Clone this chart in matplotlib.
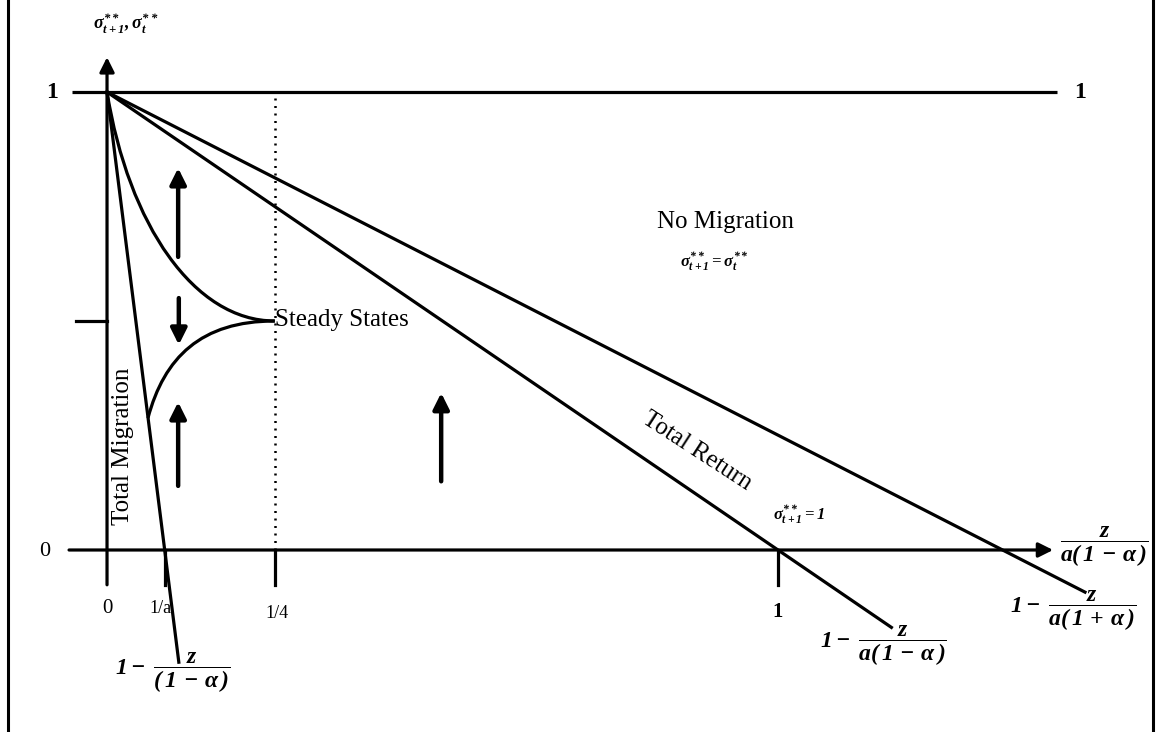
import matplotlib
matplotlib.use("Agg")
import matplotlib.pyplot as plt
from matplotlib.path import Path
from matplotlib.patches import PathPatch
from matplotlib.lines import Line2D

plt.rcParams['font.family'] = ['Liberation Serif', 'DejaVu Serif']
plt.rcParams['mathtext.fontset'] = 'custom'
plt.rcParams['mathtext.rm'] = 'Liberation Serif:italic:bold'
plt.rcParams['mathtext.it'] = 'Liberation Serif:italic:bold'
plt.rcParams['mathtext.bf'] = 'Liberation Serif:bold'

# three boundaries leaving (0, 1): end points
migration_x = [0.0, 0.107]
migration_y = [1.0, -0.245]
return_x = [0.0, 1.169]
return_y = [1.0, -0.169]
nomig_x = [0.0, 1.4575]
nomig_y = [1.0, -0.092]

# the two branches meeting at the steady state (1/4, 1/2), as bezier control points
upper_branch = [(0.0, 1.0), (0.032, 0.71), (0.13, 0.50), (0.25, 0.50)]
lower_branch = [(0.061, 0.288), (0.085, 0.42), (0.14, 0.50), (0.25, 0.50)]

inv_a = 0.0864
steady_x = 0.25
steady_y = 0.5

x_ticks = [0.0, inv_a, 0.25, 1.0]
x_tick_labels = ['0', '1/a', '1/4', '1']

# direction arrows (x, tail y, head y)
flow_arrows = [(0.106, 0.64, 0.834), (0.107, 0.55, 0.448),
               (0.106, 0.14, 0.323), (0.498, 0.15, 0.343)]

LW = 2.3

fig = plt.figure(figsize=(11.6, 7.32), dpi=100)
ax = fig.add_axes([0, 0, 1, 1])
ax.set_xlim(-0.1595, 1.5693)
ax.set_ylim(-0.3974, 1.2009)
ax.axis('off')

# side frame
fig.add_artist(Line2D([0.0069, 0.0069], [0, 1], transform=fig.transFigure, color='k', lw=2.2))
fig.add_artist(Line2D([0.994, 0.994], [0, 1], transform=fig.transFigure, color='k', lw=2.2))

# axes with arrow heads
ax.annotate('', xy=(1.41, 0), xytext=(-0.0566, 0),
            arrowprops=dict(arrowstyle='-|>', lw=LW, color='k', mutation_scale=22, shrinkA=0, shrinkB=0))
ax.annotate('', xy=(0, 1.076), xytext=(0, -0.076),
            arrowprops=dict(arrowstyle='-|>', lw=LW, color='k', mutation_scale=22, shrinkA=0, shrinkB=0))
ax.plot([-0.052, 1.416], [1, 1], color='k', lw=LW, solid_capstyle='butt')

# ticks
for xt in x_ticks[1:]:
    ax.plot([xt, xt], [0, -0.076], color='k', lw=LW)
ax.plot([-0.046, 0], [steady_y, steady_y], color='k', lw=LW)

# dotted guide at 1/4
ax.plot([steady_x, steady_x], [0, 1], color='k', lw=1.8, linestyle=(0, (0.8, 2.2)))

# boundaries
ax.plot(migration_x, migration_y, color='k', lw=LW)
ax.plot(return_x, return_y, color='k', lw=LW)
ax.plot(nomig_x, nomig_y, color='k', lw=LW)

codes = [Path.MOVETO, Path.CURVE4, Path.CURVE4, Path.CURVE4]
for pts in (upper_branch, lower_branch):
    ax.add_patch(PathPatch(Path(pts, codes), facecolor='none', edgecolor='k', lw=LW))

for x, y0, y1 in flow_arrows:
    ax.annotate('', xy=(x, y1), xytext=(x, y0),
                arrowprops=dict(arrowstyle='-|>', lw=3.2, color='k', mutation_scale=24,
                                shrinkA=0, shrinkB=0))

# tick labels
ax.text(-0.0924, -0.004, '0', fontsize=16, ha='center', va='center')
ax.text(-0.082, 0.998, '1', fontsize=17, fontweight='bold', ha='center', va='center')
ax.text(1.450, 0.998, '1', fontsize=17, fontweight='bold', ha='center', va='center')
label_pos = [(0.0, -0.127), (0.079, -0.127), (0.253, -0.138), (1.0, -0.135)]
for (lx, ly), lab in zip(label_pos, x_tick_labels):
    ax.text(lx, ly, lab, fontsize=15 if lab in ('0', '1') else 13,
            fontweight='bold' if lab == '1' else 'normal', ha='center', va='center')

# axis titles
ax.text(0.028, 1.148, r'$\sigma^{**}_{t+1},\sigma^{**}_{t}$', fontsize=13, ha='center', va='center')
ax.text(1.420, 0.0066, r'$\dfrac{z}{a(\,1\,-\,\alpha\,)}$', fontsize=17, ha='left', va='center')

# end labels of the boundaries
ax.text(0.012, -0.2686, r'$1-\;\dfrac{z}{(\,1\,-\,\alpha\,)}$', fontsize=17, ha='left', va='center')
ax.text(1.0626, -0.2096, r'$1-\;\dfrac{z}{a(\,1\,-\,\alpha\,)}$', fontsize=17, ha='left', va='center')
ax.text(1.3458, -0.133, r'$1-\;\dfrac{z}{a(\,1\,+\,\alpha\,)}$', fontsize=17, ha='left', va='center')

# region labels
ax.text(0.921, 0.716, 'No Migration', fontsize=18, ha='center', va='center')
ax.text(0.905, 0.629, r'$\sigma^{**}_{t+1}=\sigma^{**}_{t}$', fontsize=12, ha='center', va='center')
ax.text(0.250, 0.502, 'Steady States', fontsize=18, ha='left', va='center')
ax.text(0.0238, 0.227, 'Total Migration', fontsize=18, rotation=90, ha='center', va='center')
ax.text(0.879, 0.216, 'Total Return', fontsize=18, rotation=-33, rotation_mode='anchor',
        ha='center', va='center')
ax.text(1.031, 0.076, r'$\sigma^{**}_{t+1}=1$', fontsize=12, ha='center', va='center')

fig.savefig('out.png', dpi=100)
